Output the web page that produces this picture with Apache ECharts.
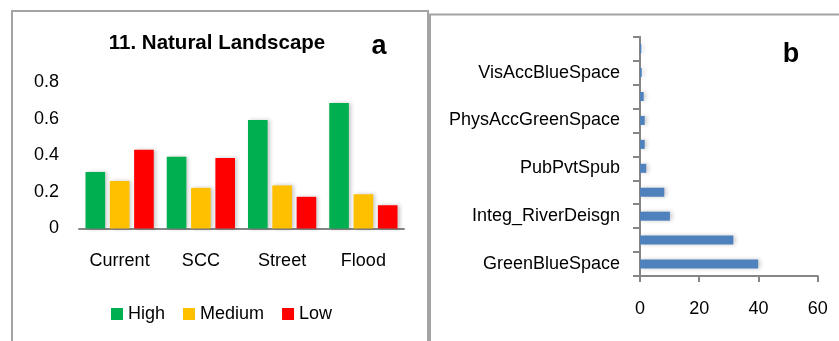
<!DOCTYPE html>
<html>
<head>
<meta charset="utf-8">
<script src="https://cdn.jsdelivr.net/npm/echarts@6/dist/echarts.min.js"></script>
<style>html,body{margin:0;padding:0;background:#fff}#c{width:839px;height:341px}</style>
</head>
<body>
<div id="c"></div>
<script>
// Panel a data
var scenarios = ['Current', 'SCC', 'Street', 'Flood'];
var highVals = [0.308, 0.392, 0.593, 0.686];
var mediumVals = [0.259, 0.222, 0.235, 0.187];
var lowVals = [0.430, 0.385, 0.173, 0.127];
var aTicks = [0, 0.2, 0.4, 0.6, 0.8];

// Panel b data (index 0 at bottom)
var factorLabels = ['GreenBlueSpace', '', 'Integ_RiverDeisgn', '', 'PubPvtSpub', '', 'PhysAccGreenSpace', '', 'VisAccBlueSpace', ''];
var factorVals = [39.9, 31.5, 10.1, 8.2, 2.1, 1.6, 1.6, 1.25, 0.6, 0.45];
var bTicks = [0, 20, 40, 60];

var FONT = 'Liberation Sans';
var chart = echarts.init(document.getElementById('c'), null, {renderer: 'canvas'});
var shadow = {shadowColor: 'rgba(0,0,0,0.22)', shadowBlur: 4, shadowOffsetX: 2, shadowOffsetY: 0};

var option = {
  backgroundColor: '#fff',
  animation: false,
  textStyle: {fontFamily: FONT},
  graphic: [
    {type: 'rect', shape: {x: 12, y: 11, width: 416, height: 360}, style: {fill: 'none', stroke: '#a3a3a3', lineWidth: 2}, z: 100},
    {type: 'rect', shape: {x: 430, y: 14.5, width: 440, height: 360}, style: {fill: 'none', stroke: '#a3a3a3', lineWidth: 2}, z: 100},
    {type: 'text', x: 217, y: 43, style: {text: '11. Natural Landscape', font: 'bold 20.5px "Liberation Sans"', fill: '#000', align: 'center', verticalAlign: 'middle'}},
    {type: 'text', x: 379, y: 47, style: {text: 'a', font: 'bold 27px "Liberation Sans"', fill: '#000', align: 'center', verticalAlign: 'middle'}},
    {type: 'text', x: 791, y: 55, style: {text: 'b', font: 'bold 27px "Liberation Sans"', fill: '#000', align: 'center', verticalAlign: 'middle'}}
  ],
  legend: {
    data: ['High', 'Medium', 'Low'],
    left: 111, top: 305,
    icon: 'rect', itemWidth: 12, itemHeight: 12, itemGap: 18,
    textStyle: {fontFamily: FONT, fontSize: 18, color: '#000', padding: [0, 0, 0, 0]},
    padding: 0
  },
  grid: [
    {left: 79, right: 435, top: 82, bottom: 112.5},
    {left: 640, right: 21.3, top: 36.7, bottom: 65}
  ],
  xAxis: [
    {type: 'category', gridIndex: 0, data: scenarios,
     axisLine: {lineStyle: {color: '#868686', width: 2}},
     axisTick: {show: false},
     axisLabel: {fontFamily: FONT, fontSize: 18, color: '#000', margin: 24}},
    {type: 'value', gridIndex: 1, min: bTicks[0], max: bTicks[bTicks.length - 1], interval: 20,
     axisLine: {show: true, lineStyle: {color: '#868686', width: 2}},
     axisTick: {show: true, length: 6, lineStyle: {color: '#868686', width: 2}},
     splitLine: {show: false},
     axisLabel: {fontFamily: FONT, fontSize: 18, color: '#000', margin: 24}}
  ],
  yAxis: [
    {type: 'value', gridIndex: 0, min: aTicks[0], max: aTicks[aTicks.length - 1], interval: 0.2,
     axisLine: {show: false}, axisTick: {show: false}, splitLine: {show: false},
     axisLabel: {fontFamily: FONT, fontSize: 18, color: '#000', margin: 20}},
    {type: 'category', gridIndex: 1, data: factorLabels,
     axisLine: {show: true, lineStyle: {color: '#868686', width: 2}},
     axisTick: {show: true, interval: 0, length: 7, lineStyle: {color: '#868686', width: 2}},
     axisLabel: {interval: 0, fontFamily: FONT, fontSize: 18, color: '#000', margin: 20}}
  ],
  series: [
    {name: 'High', type: 'bar', xAxisIndex: 0, yAxisIndex: 0, data: highVals, barGap: '24%', barCategoryGap: '16%',
     itemStyle: Object.assign({color: '#00B050'}, shadow)},
    {name: 'Medium', type: 'bar', xAxisIndex: 0, yAxisIndex: 0, data: mediumVals, barGap: '24%', barCategoryGap: '16%',
     itemStyle: Object.assign({color: '#FFC000'}, shadow)},
    {name: 'Low', type: 'bar', xAxisIndex: 0, yAxisIndex: 0, data: lowVals, barGap: '24%', barCategoryGap: '16%',
     itemStyle: Object.assign({color: '#FF0000'}, shadow)},
    {name: 'Factors', type: 'bar', xAxisIndex: 1, yAxisIndex: 1, data: factorVals, barWidth: 9,
     itemStyle: Object.assign({color: '#4F81BD'}, shadow)}
  ]
};
chart.setOption(option);
</script>
</body>
</html>
